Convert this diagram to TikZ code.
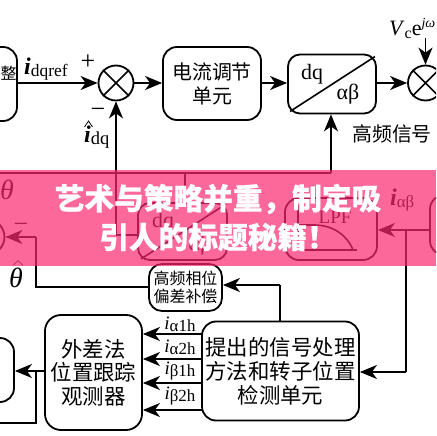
\documentclass[tikz,border=0pt]{standalone}
\usepackage{fontspec}
\setmainfont{Liberation Serif}
\newfontfamily\cjk{Noto Sans CJK SC}
\newfontfamily\cjkh[BoldFeatures={FakeBold=0.6}]{Noto Sans CJK SC}
\usetikzlibrary{arrows.meta}
\tikzset{
  x=1bp,y=-1bp,
  box/.style={draw=black,line width=1.8bp,rounded corners=14bp,inner sep=0pt},
  mix/.style={draw=black,line width=1.8bp,circle,minimum size=35bp,inner sep=0pt},
  txt/.style={inner sep=0pt,align=center,font=\cjk\fontsize{20}{24}\selectfont},
  lab/.style={inner sep=0pt,font=\fontsize{18}{20}\selectfont},
  wire/.style={line width=1.6bp,draw=black},
  arr/.style={wire,-{Stealth[length=17bp,width=14bp,inset=5bp]}},
  xline/.style={line width=1.6bp,draw=black},
  hatline/.style={line width=.7bp,draw=black},
  bandtxt/.style={inner sep=0pt,text=white,font=\cjkh\bfseries\fontsize{29.8}{37}\selectfont,align=center}
}
\begin{document}
\begin{tikzpicture}
\useasboundingbox (0,0) rectangle (436,436);
\clip (0,0) rectangle (436,436);
\fill[white] (0,0) rectangle (436,436);
% top row
\node[box,minimum width=87bp,minimum height=74bp] (ctrl) at (-26.5,84) {};
\node[txt,font=\cjk\fontsize{16}{18}\selectfont] (ctrlt) at (8.5,73) {整};
\node[mix] (m1) at (116,83) {};
\draw[xline] (m1.45)--(m1.225) (m1.135)--(m1.315);
\node[box,minimum width=98bp,minimum height=73bp,txt] (cur) at (212,83.5) {电流调节\\单元};
\node[box,rounded corners=12bp,minimum width=88bp,minimum height=59bp] (park) at (332,84) {};
\draw[xline] ([shift={(3,-3)}]park.south west)--([shift={(-2,3)}]park.north east);
\node[lab,font=\fontsize{22}{22}\selectfont] (parkdq) at (312,74) {dq};
\node[lab,font=\fontsize{22}{22}\selectfont] (parkab) at (348,94) {αβ};
\node[mix] (m2) at (425.5,83) {};
\draw[xline] (m2.45)--(m2.225) (m2.135)--(m2.315);
\coordinate (vc) at (425.5,38);
\node[lab,anchor=west,font=\fontsize{22}{22}\selectfont] (vcl) at (389,28) {\textit{V}\raisebox{-3bp}{\fontsize{16}{16}\selectfont c}e\raisebox{8bp}{\fontsize{14}{14}\selectfont\textit{jω}}};
\node[txt] (hf) at (392,134) {高频信号};
\draw[arr] (ctrl.east|-m1)--(m1.west);
\draw[arr] (m1.east)--(cur.west|-m1);
\draw[arr] (cur.east|-m1)--(park.west|-m1);
\draw[arr] (park.east|-m1)--(m2.west);
\draw[arr] (vc)--(m2.north);
\node[lab,anchor=west,font=\fontsize{24}{24}\selectfont] (idqref) at (24,69) {\textbf{\textit{i}}\raisebox{-2bp}{\fontsize{17.5}{18}\selectfont dqref}};
\node[lab,font=\fontsize{26}{26}\selectfont] (plus) at (88,62) {+};
\node[lab,font=\fontsize{26}{26}\selectfont] (minus1) at (98,113) {−};
\node[lab,anchor=west,font=\fontsize{24}{24}\selectfont] (idq) at (84,137) {\textbf{\textit{i}}\raisebox{-2bp}{\fontsize{18.5}{18}\selectfont dq}};
\draw[hatline] (84.5,127)--(88.5,121)--(92.5,127);
% middle row
\coordinate (j1) at (0,173);
\coordinate (j2) at (331,173);
\coordinate (j3) at (185,173);
\coordinate (j4) at (116,235);
\node[box,rounded corners=12bp,minimum width=89bp,minimum height=57bp] (park2) at (182.5,231.5) {};
\draw[xline] ([shift={(4,-2)}]park2.south west)--([shift={(-2,2)}]park2.north east);
\node[lab,font=\fontsize{22}{22}\selectfont] (p2dq) at (163,222) {dq};
\node[lab,font=\fontsize{22}{22}\selectfont] (p2ab) at (200,245) {αβ};
\node[box,minimum width=92bp,minimum height=62bp] (lpf) at (331,229) {};
\node[lab,font=\fontsize{19}{20}\selectfont] (lpft) at (335,217) {LPF};
\draw[xline] (298,205)--(298,250)--(357,250);
\draw[xline] (298,225)--(314,225) .. controls (333,225) and (347,235) .. (353,250);
\node[box,minimum width=60bp,minimum height=60bp] (hpf) at (460,225) {};
\node[mix] (m3) at (-13,237) {};
\draw[xline] (m3.45)--(m3.225) (m3.135)--(m3.315);
\node[lab,font=\fontsize{28}{28}\selectfont\itshape] (th1) at (7,190) {θ};
\node[lab,font=\fontsize{26}{26}\selectfont] (minus2) at (21,228) {−};
\node[lab,font=\fontsize{28}{28}\selectfont\itshape] (th2) at (16,278) {θ};
\draw[hatline] (13,265.5)--(18,260.5)--(23,265.5);
\node[lab,anchor=west,font=\fontsize{24}{24}\selectfont] (iab) at (390,200) {\textbf{\textit{i}}\raisebox{-2bp}{\fontsize{17}{17}\selectfont αβ}};
\draw[wire] (j1)--(j2);
\draw[arr] (j2)--(park.south-|j2);
\draw[wire] (j3)--(park2.north-|j3);
\draw[arr] (j4)--(m1.south);
\draw[wire] (j4)--(park2.west|-j4);
% lower part
\node[box,rounded corners=13bp,minimum width=73bp,minimum height=47bp,txt,font=\cjk\fontsize{16}{17.5}\selectfont] (comp) at (185.5,287.5) {高频相位\\偏差补偿};
\node[box,minimum width=157bp,minimum height=99bp,txt,font=\cjk\fontsize{21.5}{24}\selectfont] (sp) at (280.5,371) {提出的信号处理\\方法和转子位置\\检测单元};
\node[box,rounded corners=16bp,minimum width=97bp,minimum height=115bp,txt,font=\cjk\fontsize{21.5}{23.5}\selectfont] (obs) at (93.5,372.5) {外差法\\位置跟踪\\观测器};
\node[box,minimum width=60bp,minimum height=64bp] (left) at (-16,370) {};
\coordinate (c1) at (36,287);
\coordinate (c2) at (36,237);
\coordinate (c3) at (280,285);
\coordinate (c4) at (406,230);
\coordinate (c5) at (406,372);
\coordinate (c6) at (36,371);
\coordinate (c7) at (36,423);
\coordinate (c8) at (0,423);
\draw[wire] (comp.west|-c1)--(c1)--(c2);
\draw[arr] (c2)--(m3.east|-c2);
\draw[wire] (sp.north-|c3)--(c3);
\draw[arr] (c3)--(comp.east|-c3);
\draw[arr] (hpf.west|-c4)--(lpf.east|-c4);
\draw[wire] (c4)--(c5);
\draw[arr] (c5)--(sp.east|-c5);
\draw[arr] (obs.west|-c6)--(left.east|-c6);
\draw[wire] (c6)--(c7)--(c8);
\foreach \n/\y in {a/334,b/359,c/383,d/410}{
  \coordinate (s\n) at (202,\y);
  \draw[arr] (s\n)--(obs.east|-s\n);
}
\foreach \n/\y/\s in {a/324/α1h,b/347/α2h,c/371/β1h,d/396/β2h}{
  \node[lab,font=\fontsize{19}{20}\selectfont] (l\n) at (180,\y) {\textit{i}\raisebox{-2bp}{\fontsize{17}{17}\selectfont\s}};
}
% band
\fill[fill={rgb,255:red,253;green,41;blue,113},opacity=.7] (0,170) rectangle (436,266);
\node[bandtxt] (bt1) at (218,199) {艺术与策略并重，制定吸};
\node[bandtxt] (bt2) at (218,237) {引人的标题秘籍！};
\end{tikzpicture}
\end{document}
